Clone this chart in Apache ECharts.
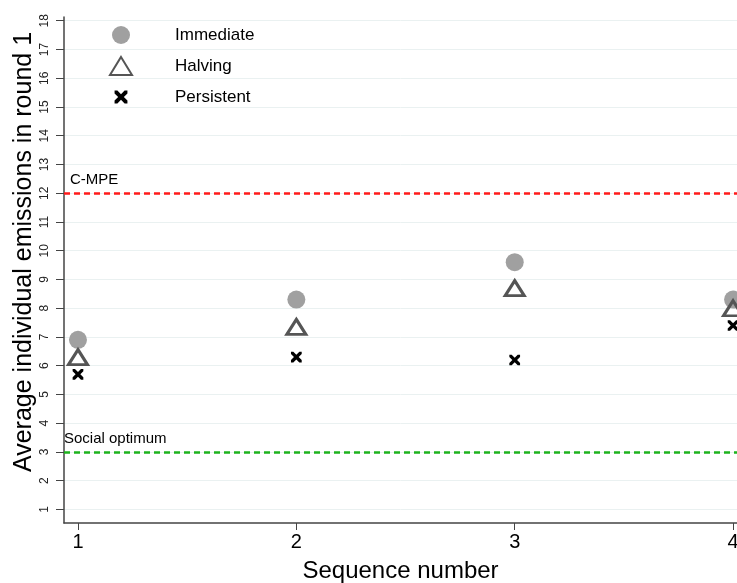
<!DOCTYPE html>
<html>
<head>
<meta charset="utf-8">
<script src="https://cdn.jsdelivr.net/npm/echarts@6/dist/echarts.min.js"></script>
<style>
  html, body { margin: 0; padding: 0; background: #fff; }
  #chart { width: 737px; height: 583px; }
</style>
</head>
<body>
<div id="chart"></div>
<script>
// 数据
const sequences = [1, 2, 3, 4];
const immediate = [6.9, 8.3, 9.6, 8.3];
const halving = [6.3, 7.35, 8.7, 8.0];
const persistent = [5.7, 6.3, 6.2, 7.4];
const yTicks = [1, 2, 3, 4, 5, 6, 7, 8, 9, 10, 11, 12, 13, 14, 15, 16, 17, 18];
const cmpe = 12;
const socialOptimum = 3;

const font = '"Liberation Sans", Arial, sans-serif';

// X 形标记（外面留一点空白，图例里不会被拉得太大）
const crossPath = 'path://M-2,-2 M12,12 M0,0 L2.2,0 L5,2.8 L7.8,0 L10,0 L10,2.2 L7.2,5 L10,7.8 L10,10 L7.8,10 L5,7.2 L2.2,10 L0,10 L0,7.8 L2.8,5 L0,2.2 Z';

let chart = echarts.init(document.getElementById('chart'), null, { renderer: 'canvas' });

const pair = (arr) => arr.map((v, i) => [sequences[i], v]);

chart.setOption({
    animation: false,
    backgroundColor: '#fff',
    textStyle: { fontFamily: font },
    grid: {
        left: 64,
        right: 0,
        top: 17,
        bottom: 60,
        outerBoundsMode: 'none',
        containLabel: false
    },
    legend: {
        orient: 'vertical',
        left: 104,
        top: 21,
        itemWidth: 22,
        itemHeight: 18,
        itemGap: 12,
        textStyle: {
            fontSize: 17,
            color: '#000',
            fontFamily: font,
            padding: [0, 0, 0, 38]
        },
        data: ['Immediate', 'Halving', 'Persistent']
    },
    xAxis: {
        type: 'value',
        min: 0.936,
        max: 4.018,
        name: 'Sequence number',
        nameLocation: 'middle',
        nameGap: 36,
        nameMoveOverlap: false,
        nameTextStyle: { fontSize: 24, color: '#000', fontFamily: font },
        axisLine: { lineStyle: { color: '#444', width: 1.5 } },
        axisTick: { show: true, length: 7, customValues: sequences, lineStyle: { color: '#444' } },
        axisLabel: { customValues: sequences, fontSize: 20, color: '#000', margin: 9, showMaxLabel: true },
        splitLine: { show: false }
    },
    yAxis: {
        type: 'value',
        min: 0.53,
        max: 18.13,
        name: 'Average individual emissions in round 1',
        nameLocation: 'middle',
        nameGap: 27,
        nameMoveOverlap: false,
        nameTextStyle: { fontSize: 25, color: '#000', fontFamily: font, padding: [0, 0, 0, 36] },
        axisLine: { show: true, lineStyle: { color: '#444', width: 1.5 } },
        axisTick: { show: true, length: 8, customValues: yTicks, lineStyle: { color: '#444' } },
        axisLabel: { customValues: yTicks, rotate: 90, fontSize: 12, color: '#222', margin: 13 },
        splitLine: { show: true, lineStyle: { color: '#eaf1f1', width: 1 } }
    },
    series: [
        {
            name: 'Immediate',
            type: 'scatter',
            symbol: 'circle',
            symbolSize: 18,
            itemStyle: { color: '#a0a0a0', opacity: 1 },
            data: pair(immediate),
            z: 3,
            markLine: {
                silent: true,
                symbol: 'none',
                lineStyle: { type: [6, 4], width: 2.5 },
                data: [
                    {
                        yAxis: cmpe,
                        lineStyle: { color: '#ff1a1a', type: [6, 4], width: 2.5 },
                        label: {
                            position: 'insideStartTop',
                            formatter: 'C-MPE',
                            fontSize: 15,
                            color: '#000',
                            distance: [6, 6]
                        }
                    },
                    {
                        yAxis: socialOptimum,
                        lineStyle: { color: '#1db31d', type: [6, 4], width: 2.5 },
                        label: {
                            position: 'insideStartTop',
                            formatter: 'Social optimum',
                            fontSize: 15,
                            color: '#000',
                            distance: [0, 6]
                        }
                    }
                ]
            }
        },
        {
            name: 'Halving',
            type: 'scatter',
            symbol: 'triangle',
            symbolSize: [19, 15],
            itemStyle: { color: 'rgba(255,255,255,0)', borderColor: '#555', borderWidth: 3, opacity: 1 },
            data: pair(halving),
            z: 4
        },
        {
            name: 'Persistent',
            type: 'scatter',
            symbol: crossPath,
            symbolSize: 15,
            itemStyle: { color: '#000', opacity: 1 },
            data: pair(persistent),
            z: 5
        }
    ]
});
</script>
</body>
</html>
